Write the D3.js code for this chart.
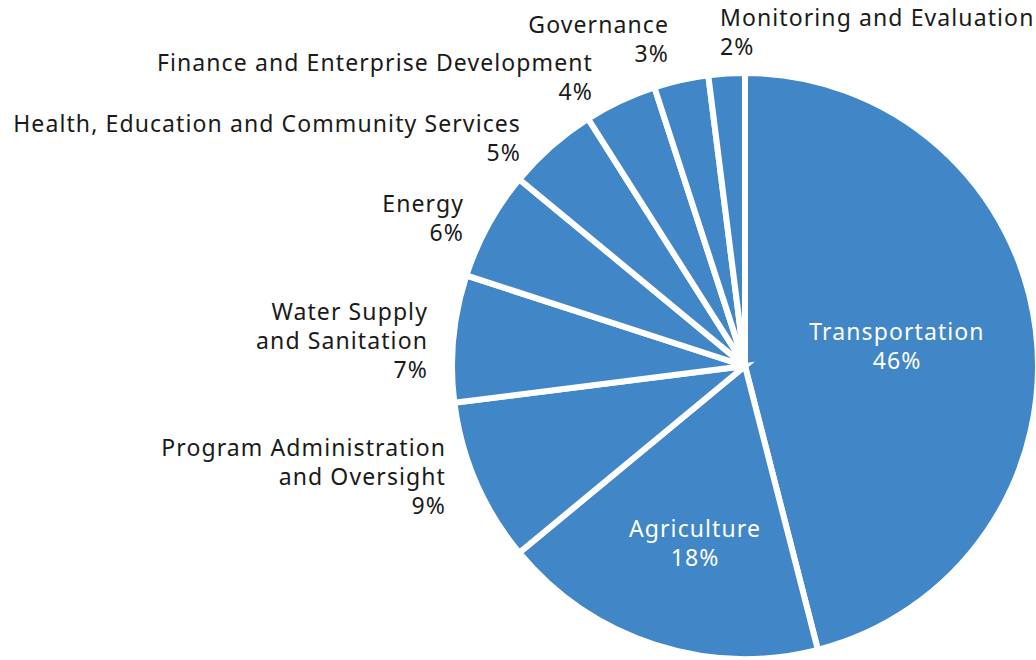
<!DOCTYPE html>
<html><head><meta charset="utf-8">
<script src="https://cdn.jsdelivr.net/npm/d3@7"></script>
<style>html,body{margin:0;padding:0;background:#fff;}svg{display:block;}</style>
</head><body>
<svg id="chart" width="1036" height="660"></svg>
<script>
const categories = ["Transportation","Agriculture","Program Administration and Oversight","Water Supply and Sanitation","Energy","Health, Education and Community Services","Finance and Enterprise Development","Governance","Monitoring and Evaluation"];
const values = [46,18,9,7,6,5,4,3,2];
const labelLines = [["Transportation","46%"],["Agriculture","18%"],["Program Administration","and Oversight","9%"],["Water Supply","and Sanitation","7%"],["Energy","6%"],["Health, Education and Community Services","5%"],["Finance and Enterprise Development","4%"],["Governance","3%"],["Monitoring and Evaluation","2%"]];
// label layout: [x, first baseline, anchor, inside?]
const labelLayout = [[897,340,"middle",true],[695,537,"middle",true],[446,456,"end",false],[428,320,"end",false],[464,212,"end",false],[521,132,"end",false],[593,71,"end",false],[669,33,"end",false],[720,26,"start",false]];

const svg = d3.select("#chart");
const cx = 745, cy = 366, R = 293;
const color = "#4186c6";
const pie = d3.pie().sort(null).value(d => d);
const arc = d3.arc().innerRadius(0).outerRadius(R);
const g = svg.append("g").attr("transform", `translate(${cx},${cy})`);
g.selectAll("path").data(pie(values)).join("path")
  .attr("d", arc).attr("fill", color)
  .attr("stroke", "#fff").attr("stroke-width", 6).attr("stroke-linejoin","miter");

const fontFamily = "'Noto Sans', sans-serif";
const fs = 23, lh = 29;
categories.forEach((c, i) => {
  const [x, y, anchor, inside] = labelLayout[i];
  const t = svg.append("text").attr("text-anchor", anchor)
    .attr("font-family", fontFamily).attr("font-size", fs)
    .attr("letter-spacing", "1.1px")
    .attr("fill", inside ? "#fff" : "#1a1a1a");
  labelLines[i].forEach((line, k) => {
    t.append("tspan").attr("x", x).attr("y", y + k * lh).text(line);
  });
});
</script>
</body></html>
